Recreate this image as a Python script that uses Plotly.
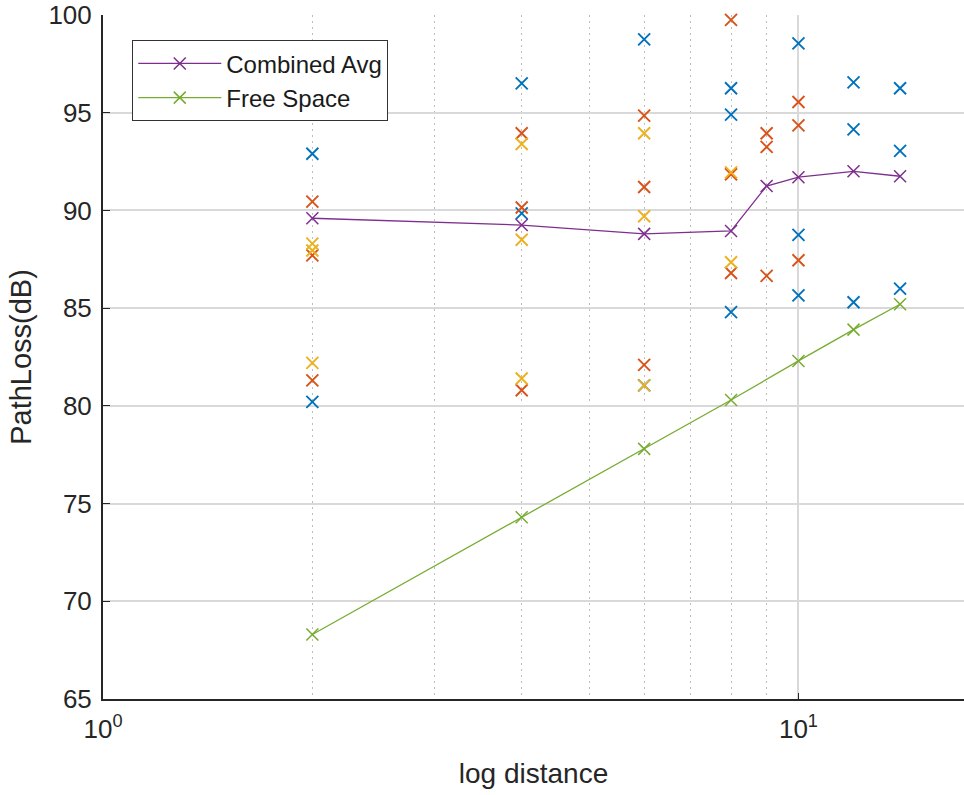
import math
import plotly.graph_objects as go

# ---- data ----
blue_x = [2, 2, 4, 4, 6, 6, 8, 8, 8, 10, 10, 10, 12, 12, 12, 14, 14, 14]
blue_y = [92.9, 80.2, 96.5, 89.85, 98.75, 81.05, 96.25, 94.9, 84.8,
          98.55, 88.75, 85.65, 96.55, 94.15, 85.3, 96.25, 93.05, 86.0]

orange_x = [2, 2, 2, 4, 4, 4, 6, 6, 6, 8, 8, 8, 9, 9, 9, 10, 10, 10]
orange_y = [90.45, 87.7, 81.3, 93.95, 90.15, 80.8, 94.85, 91.2, 82.1,
            99.75, 91.85, 86.8, 93.95, 93.25, 86.65, 95.55, 94.35, 87.45]

yellow_x = [2, 2, 2, 4, 4, 4, 6, 6, 6, 8, 8]
yellow_y = [88.3, 87.95, 82.2, 93.4, 88.5, 81.4, 93.95, 89.7, 81.05, 91.95, 87.35]

avg_x = [2, 4, 6, 8, 9, 10, 12, 14]
avg_y = [89.6, 89.25, 88.8, 88.95, 91.25, 91.7, 92.0, 91.75]

fs_x = [2, 4, 6, 8, 10, 12, 14]
fs_y = [68.3, 74.3, 77.8, 80.3, 82.3, 83.9, 85.2]

x_tickvals = [1, 10]
x_ticktext = ["10<sup>0</sup>", "10<sup>1</sup>"]
x_minor = [2, 3, 4, 5, 6, 7, 8, 9]
y_ticks = [65, 70, 75, 80, 85, 90, 95, 100]
x_max = 17.3

BLUE = "#0072BD"
ORANGE = "#D95319"
YELLOW = "#EDB120"
PURPLE = "#7E2F8E"
GREEN = "#77AC30"
TXT = "#262626"

FONT = "Liberation Sans, Arial, Helvetica, sans-serif"

fig = go.Figure()


def xmark(color, size=12, w=1.9):
    return dict(symbol="x-thin", size=size, color=color,
                line=dict(color=color, width=w))


for xs, ys, c in [(blue_x, blue_y, BLUE), (orange_x, orange_y, ORANGE),
                  (yellow_x, yellow_y, YELLOW)]:
    fig.add_trace(go.Scatter(x=xs, y=ys, mode="markers", marker=xmark(c),
                             showlegend=False, hoverinfo="x+y",
                             cliponaxis=False))

fig.add_trace(go.Scatter(x=avg_x, y=avg_y, mode="lines+markers",
                         name="Combined Avg",
                         line=dict(color=PURPLE, width=1.3),
                         marker=xmark(PURPLE, w=1.5)))
fig.add_trace(go.Scatter(x=fs_x, y=fs_y, mode="lines+markers",
                         name="Free Space",
                         line=dict(color=GREEN, width=1.3),
                         marker=xmark(GREEN, w=1.5)))

fig.update_layout(
    width=964, height=795,
    margin=dict(l=103, r=0, t=15, b=96),
    plot_bgcolor="white", paper_bgcolor="white",
    font=dict(family=FONT, size=24, color=TXT),
    legend=dict(x=0.034, y=0.963, xanchor="left", yanchor="top",
                bgcolor="white", bordercolor="#333333", borderwidth=1,
                font=dict(size=24, color="#1a1a1a"),
                itemwidth=83, tracegroupgap=0),
    xaxis=dict(
        type="log", range=[0, math.log10(x_max)],
        tickvals=x_tickvals, ticktext=x_ticktext,
        showgrid=True, gridcolor="#d9d9d9", gridwidth=1.5,
        ticks="inside", ticklen=6, tickcolor=TXT,
        showline=True, linecolor=TXT, linewidth=2,
        tickfont=dict(size=26, color=TXT),
        ticklabelstandoff=6, ticklabeloverflow="allow",
        minor=dict(tickvals=x_minor, showgrid=True, gridcolor="#bdbdbd",
                   griddash="2px,4px", gridwidth=1.2, ticks=""),
        title=dict(text="log distance", font=dict(size=28, color=TXT),
                   standoff=20),
        zeroline=False, automargin=False,
    ),
    yaxis=dict(
        range=[65, 100], tickvals=y_ticks,
        showgrid=True, gridcolor="#d9d9d9", gridwidth=1.5,
        ticks="inside", ticklen=7, tickcolor=TXT,
        showline=True, linecolor=TXT, linewidth=2,
        tickfont=dict(size=26, color=TXT),
        ticklabelstandoff=4, ticklabeloverflow="allow",
        title=dict(text="PathLoss(dB)", font=dict(size=29, color=TXT),
                   standoff=8),
        zeroline=False, automargin=False,
    ),
)

fig.write_html(
    "out.html",
    config={"displayModeBar": False},
    post_script="document.body.style.margin='0px';"
                "document.body.style.overflow='hidden';",
)
